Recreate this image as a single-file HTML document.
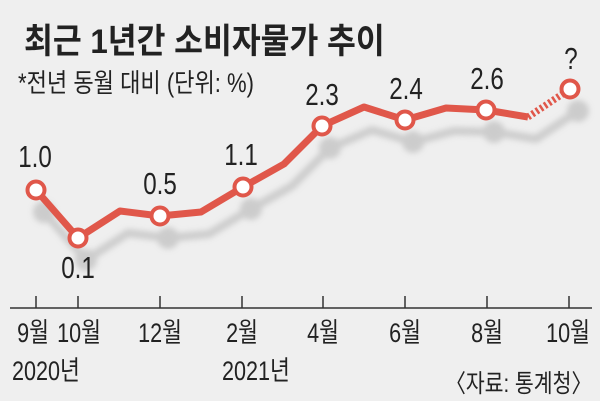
<!DOCTYPE html>
<html><head><meta charset="utf-8"><style>
body{margin:0;width:600px;height:401px;background:#efefef;overflow:hidden}
svg{display:block}
text{font-family:"Liberation Sans","Noto Sans CJK KR",sans-serif;fill:#222}
</style></head><body>
<svg width="600" height="401" viewBox="0 0 600 401">
<defs><filter id="b" x="-10%" y="-30%" width="120%" height="160%"><feGaussianBlur stdDeviation="3"/></filter></defs>
<text transform="translate(24,53) scale(0.95,1.05)" font-size="33" font-weight="bold" fill="#222">최근 1년간 소비자물가 추이</text>
<text transform="translate(18,92) scale(0.92,1.1)" font-size="24">*전년 동월 대비 (단위: %)</text>
<g filter="url(#b)" opacity="0.55">
<polyline fill="none" stroke="#b0b0b0" stroke-width="8" stroke-linejoin="round" points="44,212 86,260 128,233 168,238 209,234 251,209 292,186 330,148 372,130 413,142 454,131 494,132 536,139 578,111"/>
<g fill="#b0b0b0"><circle cx="44" cy="212" r="11"/><circle cx="86" cy="260" r="11"/><circle cx="168" cy="238" r="11"/><circle cx="251" cy="209" r="11"/><circle cx="330" cy="148" r="11"/><circle cx="413" cy="142" r="11"/><circle cx="494" cy="132" r="11"/><circle cx="578" cy="111" r="11"/></g>
</g>
<polyline fill="none" stroke="#e0574a" stroke-width="7" stroke-linejoin="round" points="36,190 78,238 120,211 160,216 201,212 243,187 284,164 322,126 364,107 405,120 446,108 486,110 528,117"/>
<line x1="528" y1="117" x2="570" y2="89" stroke="#e0574a" stroke-width="7" stroke-dasharray="2.5,2.5"/>
<g fill="#fff" stroke="#e0574a" stroke-width="4">
<circle cx="36" cy="190" r="8.5"/><circle cx="78" cy="238" r="8.5"/><circle cx="160" cy="216" r="8.5"/><circle cx="243" cy="187" r="8.5"/><circle cx="322" cy="126" r="8.5"/><circle cx="405" cy="120" r="8.5"/><circle cx="486" cy="110" r="8.5"/><circle cx="570" cy="89" r="8.5"/>
</g>
<g font-size="31" text-anchor="middle">
<text transform="translate(35,167) scale(0.78,1)">1.0</text>
<text transform="translate(78,278) scale(0.78,1)">0.1</text>
<text transform="translate(160,194) scale(0.78,1)">0.5</text>
<text transform="translate(241,165) scale(0.78,1)">1.1</text>
<text transform="translate(322,105) scale(0.78,1)">2.3</text>
<text transform="translate(406,99) scale(0.78,1)">2.4</text>
<text transform="translate(487,89) scale(0.78,1)">2.6</text>
<text transform="translate(571,69) scale(0.78,1)">?</text>
</g>
<line x1="10" y1="308" x2="592" y2="308" stroke="#333" stroke-width="1.5"/>
<g stroke="#333" stroke-width="1.5">
<line x1="36" y1="296" x2="36" y2="308"/><line x1="78" y1="296" x2="78" y2="308"/><line x1="160" y1="296" x2="160" y2="308"/><line x1="242" y1="296" x2="242" y2="308"/><line x1="323" y1="296" x2="323" y2="308"/><line x1="405" y1="296" x2="405" y2="308"/><line x1="487" y1="296" x2="487" y2="308"/><line x1="569" y1="296" x2="569" y2="308"/>
</g>
<g font-size="27" text-anchor="middle">
<text transform="translate(33,342) scale(0.8,1)">9월</text>
<text transform="translate(79,342) scale(0.8,1)">10월</text>
<text transform="translate(160,342) scale(0.8,1)">12월</text>
<text transform="translate(242,342) scale(0.8,1)">2월</text>
<text transform="translate(323,342) scale(0.8,1)">4월</text>
<text transform="translate(405,342) scale(0.8,1)">6월</text>
<text transform="translate(487,342) scale(0.8,1)">8월</text>
<text transform="translate(568,342) scale(0.8,1)">10월</text>
</g>
<text transform="translate(12,380) scale(0.8,1)" font-size="27">2020년</text>
<text transform="translate(222,380) scale(0.8,1)" font-size="27">2021년</text>
<text transform="translate(592,392) scale(0.82,1)" font-size="25" text-anchor="end">〈자료: 통계청〉</text>
</svg>
</body></html>
